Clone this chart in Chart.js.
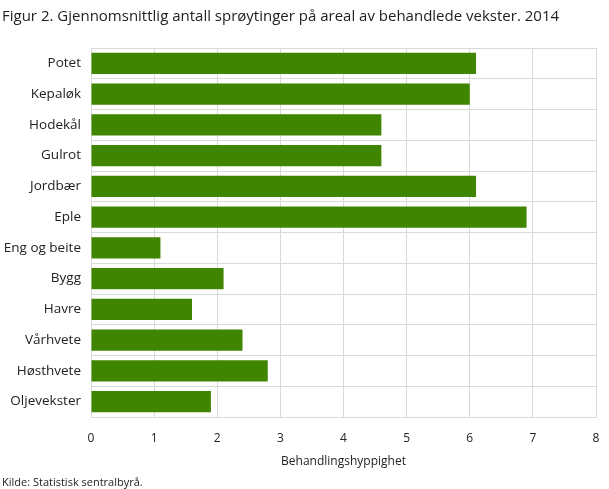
<!DOCTYPE html>
<html>
<head>
<meta charset="utf-8">
<script src="https://cdn.jsdelivr.net/npm/chart.js@4"></script>
<style>
  html, body { margin: 0; padding: 0; background: #fff; }
  #wrap { position: relative; width: 609px; height: 489px; }
</style>
</head>
<body>
<div id="wrap"><canvas id="grafico"></canvas></div>
<script>
// vekster og gjennomsnittlig antall sprøytinger
const vekster = ["Potet", "Kepaløk", "Hodekål", "Gulrot", "Jordbær", "Eple",
  "Eng og beite", "Bygg", "Havre", "Vårhvete", "Høsthvete", "Oljevekster"];
const sproytinger = [6.1, 6.0, 4.6, 4.6, 6.1, 6.9, 1.1, 2.1, 1.6, 2.4, 2.8, 1.9];
const xTicks = [0, 1, 2, 3, 4, 5, 6, 7, 8];

const tittel = "Figur 2. Gjennomsnittlig antall sprøytinger på areal av behandlede vekster. 2014";
const kilde = "Kilde: Statistisk sentralbyrå.";
const aksetittel = "Behandlingshyppighet";

const ctx = document.getElementById("grafico");
new Chart(ctx, {
  type: "bar",
  data: {
    labels: vekster,
    datasets: [{
      data: sproytinger,
      backgroundColor: "#408500",
      barPercentage: 0.69,
      categoryPercentage: 1.0
    }]
  },
  options: {
    indexAxis: "y",
    responsive: true,
    maintainAspectRatio: false,
    animation: false,
    layout: { padding: { left: 2, right: 13, top: 0, bottom: 0 } },
    plugins: {
      legend: { display: false },
      tooltip: { enabled: false },
      title: {
        display: true,
        text: tittel,
        align: "start",
        color: "#222",
        font: { family: "Open Sans", size: 15, weight: "normal" },
        padding: { top: 8, bottom: 22 }
      },
      subtitle: {
        display: true,
        text: kilde,
        position: "bottom",
        align: "start",
        color: "#222",
        font: { family: "Open Sans", size: 11 },
        padding: { top: 7, bottom: 0 }
      }
    },
    scales: {
      x: {
        min: 0,
        max: 8,
        afterBuildTicks: (axis) => { axis.ticks = xTicks.map(v => ({ value: v })); },
        afterFit: (scale) => { scale.paddingRight = 0; },
        grid: { color: "#d9d9d9", drawTicks: false, lineWidth: 1 },
        border: { color: "#d9d9d9" },
        ticks: { color: "#222", font: { family: "Open Sans", size: 12 }, padding: 14 },
        title: {
          display: true,
          text: aksetittel,
          color: "#222",
          font: { family: "Open Sans", size: 12 },
          padding: { top: -5, bottom: 0 }
        }
      },
      y: {
        afterFit: (scale) => { scale.width = 89; },
        grid: { color: "#d9d9d9", drawTicks: false, offset: true },
        border: { color: "#d9d9d9" },
        ticks: { color: "#222", font: { family: "Open Sans", size: 13.5 }, padding: 10 }
      }
    }
  }
});
</script>
</body>
</html>
